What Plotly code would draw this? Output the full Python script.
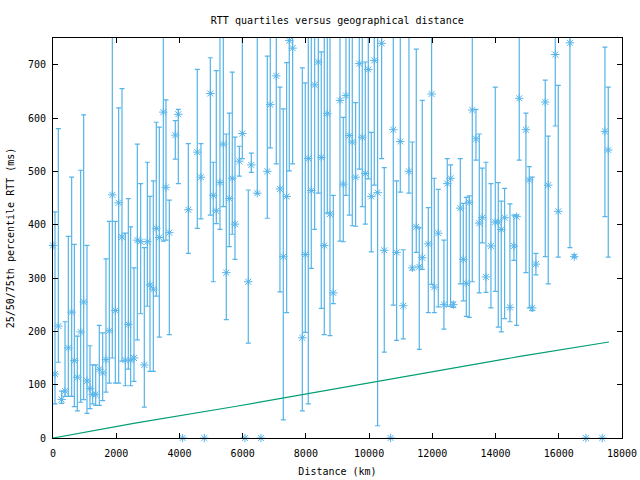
import plotly.graph_objects as go

# Distance (km) and RTT quartiles (ms) per site
distance = [63, 169, 274, 380, 485, 590, 675, 770, 875, 970, 1075, 1170, 1255, 1350, 1465, 1571,
            1676, 1782, 1877, 1972, 2077, 2182, 2288, 2383, 2457, 2562, 2668,
            2773, 2889, 2984, 3068, 3174, 3268, 3363, 3490, 3574, 3680, 3869, 3964, 4281, 4565,
            4681, 4977, 5071, 5166, 5282, 5388, 5482, 5577, 5672, 5757,
            5894, 5989, 6178, 6273, 6463, 6779, 6874, 7064, 7180, 7285, 7391, 7475, 7581, 7887,
            7981, 8076, 8171, 8277, 8393, 8487, 8582, 8677, 8762,
            8867, 9078, 9183, 9268, 9373, 9468, 9573, 9689, 9784, 9879, 9974, 10069, 10164, 10269,
            10396, 10480, 10765, 10870, 10986, 11081, 11260, 11366, 11492, 11587, 11682,
            11872, 11977, 12062, 12188, 12367, 12473, 12578, 12663, 12884, 12979, 13074, 13169,
            13264, 13380, 13485, 13580, 13696, 13854, 13991, 14086, 14181, 14286, 14455, 14581,
            14666, 14749,
            14961, 15067, 15161, 15277, 15572, 15667, 15889, 15984, 16353, 16490, 17460, 17565]
rtt_q1 = [64, 142, 65, 78, 78, 78, 59, 51, 67, 72, 46, 55, 64, 61, 61, 70,
          86, 103, 150, 103, 103, 144, 98, 129, 98, 106, 184,
          233, 58, 247, 125, 125, 266, 189, 369, 371, 194, 523, 477, 346, 393,
          411, 418, 293, 402, 391, 434, 222, 359, 382, 335,
          491, 524, 178, 498, 458, 412, 544, 514, 274, 34, 235, 501, 514, 51,
          198, 64, 318, 391, 459, 243, 194, 422, 192,
          252, 369, 368, 455, 418, 398, 397, 504, 434, 401, 486, 349, 474, 23,
          524, 161, 249, 183, 461, 186, 459, 315, 348, 166, 316,
          235, 288, 235, 246, 204, 247, 247, 245, 289, 257, 228, 226,
          293, 521, 272, 366, 273, 244, 275, 208, 199, 224, 218, 333,
          211, 521,
          310, 244, 239, 306, 340, 289, 585, 339, 357, 338, 415, 339]
rtt_median = [120, 210, 72, 88, 169, 236, 145, 114, 199, 255, 107, 93, 82, 82, 129, 122,
              147, 201, 456, 239, 441, 377, 146, 213, 146, 150, 371,
              368, 137, 368, 287, 279, 393, 376, 611, 470, 385, 568, 607, 428, 536,
              489, 646, 455, 426, 479, 551, 310, 449, 487, 401,
              519, 571, 293, 512, 459, 500, 625, 679, 467, 340, 453, 745, 731, 188,
              344, 524, 464, 662, 705, 526, 361, 608, 420,
              272, 633, 476, 642, 567, 555, 489, 702, 564, 496, 691, 453, 708, 460,
              740, 352, 578, 348, 556, 248, 500, 319, 396, 321, 338,
              364, 645, 283, 384, 250, 477, 487, 250, 431, 335, 290, 442,
              615, 561, 403, 413, 302, 360, 405, 405, 391, 413, 245, 360,
              415, 637,
              578, 484, 244, 326, 630, 474, 719, 425, 741, 340, 575, 540]
rtt_q3 = [424, 580, 88, 218, 378, 489, 363, 191, 502, 606, 361, 173, 137, 137, 211, 197,
          336, 406, 800, 406, 619, 655, 384, 449, 396, 319, 551,
          477, 357, 517, 453, 482, 592, 583, 800, 634, 446, 595, 616, 552, 691,
          552, 713, 517, 689, 800, 800, 570, 609, 686, 564,
          547, 800, 465, 534, 800, 716, 800, 800, 658, 617, 704, 800, 800, 694,
          666, 800, 800, 800, 800, 724, 800, 800, 800,
          455, 800, 601, 800, 800, 800, 629, 800, 800, 705, 800, 573, 800, 800,
          800, 507, 800, 482, 800, 353, 800, 555, 729, 394, 633,
          432, 800, 487, 466, 371, 524, 512, 255, 524, 440, 451, 454,
          800, 616, 570, 506, 517, 477, 658, 479, 444, 468, 439, 418,
          418, 800,
          609, 509, 489, 346, 671, 566, 800, 661, 800, 344, 733, 658]

# Sites without spread (single value)
single_distance = [0, 4101, 4787, 6073, 6579, 10680, 16859, 17376]
single_rtt = [361, 0, 0, 0, 0, 0, 0, 0]

# Minimum (speed-of-light) RTT line
line_distance = [0, 2594, 5757, 8762, 11766, 14771, 17587]
line_rtt = [0, 28, 59, 90, 122, 153, 180]

blue = "#56b4e9"
green = "#009e73"
font = "DejaVu Sans Mono"

err_plus = [h - m for h, m in zip(rtt_q3, rtt_median)]
err_minus = [m - l for m, l in zip(rtt_median, rtt_q1)]

fig = go.Figure()
fig.add_trace(go.Scatter(
    x=distance, y=rtt_median, mode="markers",
    marker=dict(symbol="asterisk-open", size=7, color=blue, line=dict(color=blue, width=1)),
    error_y=dict(type="data", array=err_plus, arrayminus=err_minus, symmetric=False,
                 color=blue, thickness=1.2, width=2.5),
    showlegend=False,
))
fig.add_trace(go.Scatter(
    x=single_distance, y=single_rtt, mode="markers", cliponaxis=False,
    marker=dict(symbol="asterisk-open", size=7, color=blue, line=dict(color=blue, width=1)),
    showlegend=False,
))
fig.add_trace(go.Scatter(
    x=line_distance, y=line_rtt, mode="lines",
    line=dict(color=green, width=1.2), showlegend=False,
))

axis_common = dict(
    showgrid=False, zeroline=False, showline=True, linecolor="black", linewidth=1,
    mirror="ticks", ticks="inside", ticklen=5, tickcolor="black", tickwidth=1,
    tickfont=dict(family=font, size=10, color="black"), tickformat="d",
    automargin=False,
)
fig.update_layout(
    width=640, height=480,
    margin=dict(l=53, r=18, t=38, b=42),
    paper_bgcolor="white", plot_bgcolor="white",
    title=dict(text="RTT quartiles versus geographical distance",
               font=dict(family=font, size=10, color="black"),
               x=0.527, xanchor="center", y=1 - 20 / 480, yanchor="middle", yref="container"),
    xaxis=dict(range=[0, 18000], dtick=2000, tick0=0,
               title=dict(text="Distance (km)", font=dict(family=font, size=10, color="black"),
                          standoff=9),
               ticklabelstandoff=6, **axis_common),
    yaxis=dict(range=[0, 750], dtick=100, tick0=0,
               title=dict(text="25/50/75th percentile RTT (ms)",
                          font=dict(family=font, size=10, color="black"), standoff=11),
               ticklabelstandoff=4, **axis_common),
)

fig.write_html("out.html")
